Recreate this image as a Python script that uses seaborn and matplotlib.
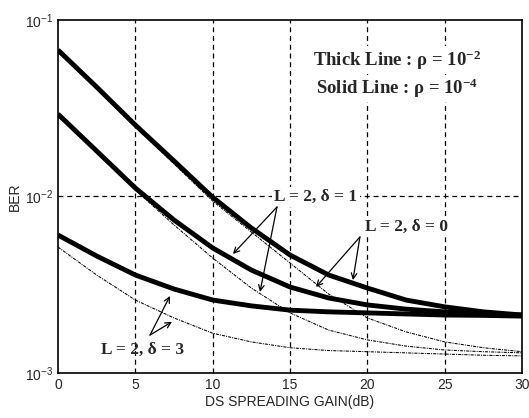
import numpy as np
import pandas as pd
import seaborn as sns
import matplotlib.pyplot as plt

# spreading gain (dB) sample points
gain_db = [0, 2.5, 5, 7.5, 10, 12.5, 15, 17.5, 20, 22.5, 25, 27.5, 30]

# thick lines: rho = 1e-2
thick_d1 = [0.0676, 0.0417, 0.0254, 0.0159, 0.0099, 0.00663, 0.00466, 0.00359,
            0.00303, 0.00259, 0.00237, 0.00222, 0.00213]
thick_d0 = [0.0293, 0.0181, 0.01117, 0.00736, 0.00511, 0.00383, 0.00307, 0.00266,
            0.00243, 0.00230, 0.00222, 0.00216, 0.00213]
thick_d3 = [0.00605, 0.00460, 0.00359, 0.00299, 0.00259, 0.00240, 0.00227, 0.00222,
            0.00219, 0.00216, 0.00213, 0.00212, 0.00210]

# thin lines: rho = 1e-4
thin_d1 = [0.0659, 0.0407, 0.0248, 0.0153, 0.00943, 0.00629, 0.00420, 0.00280,
           0.00205, 0.00171, 0.00150, 0.00139, 0.00132]
thin_d0 = [0.0290, 0.0179, 0.01088, 0.00690, 0.00448, 0.00303, 0.00219, 0.00175,
           0.00154, 0.00142, 0.00135, 0.00132, 0.00130]
thin_d3 = [0.00517, 0.00359, 0.00259, 0.00205, 0.00168, 0.00150, 0.00139, 0.00134,
           0.00132, 0.00130, 0.00128, 0.00126, 0.00125]

x_ticks = [0, 5, 10, 15, 20, 25, 30]
y_ticks = [1e-3, 1e-2, 1e-1]
y_ticklabels = [r"$\mathregular{10^{-3}}$", r"$\mathregular{10^{-2}}$", r"$\mathregular{10^{-1}}$"]

sns.set_style("white")
plt.rcParams["font.family"] = ["Liberation Sans", "DejaVu Sans"]

fig = plt.figure(figsize=(5.29, 4.18), dpi=100)
ax = fig.add_axes([0.1096, 0.1077, 0.8772, 0.8445])

for series in [thick_d1, thick_d0, thick_d3]:
    df = pd.DataFrame({"gain": gain_db, "ber": series})
    sns.lineplot(data=df, x="gain", y="ber", ax=ax, color="black", lw=3.5,
                 solid_capstyle="butt", zorder=3)

for series in [thin_d1, thin_d0, thin_d3]:
    df = pd.DataFrame({"gain": gain_db, "ber": series})
    sns.lineplot(data=df, x="gain", y="ber", ax=ax, color="black", lw=0.75,
                 linestyle=(0, (3, 1, 1, 1)), zorder=3)

ax.set_yscale("log")
ax.set_xlim(0, 30)
ax.set_ylim(1e-3, 1e-1)
ax.set_xticks(x_ticks)
ax.set_yticks(y_ticks)
ax.set_yticklabels(y_ticklabels)
ax.yaxis.set_minor_locator(plt.NullLocator())
ax.tick_params(axis="both", labelsize=10, direction="in", length=3, color="black")

# dashed grid, only the interior lines
for gx in [5, 10, 15, 20, 25]:
    ax.axvline(gx, color="black", lw=0.9, ls=(0, (4, 3)), zorder=1)
ax.axhline(1e-2, color="black", lw=0.9, ls=(0, (4, 3)), zorder=1)

for side in ax.spines.values():
    side.set_color("black")
    side.set_linewidth(1.2)

ax.set_xlabel("DS SPREADING GAIN(dB)", fontsize=10, labelpad=2)
ax.set_ylabel("BER", fontsize=10, labelpad=2)

serif = ["Liberation Serif", "DejaVu Serif"]
box = dict(facecolor="white", edgecolor="none", pad=1.5)
ax.text(0.731, 0.886, "Thick Line : ρ = $\\mathregular{10^{-2}}$", transform=ax.transAxes,
        ha="center", va="center", fontsize=13.5, fontweight="bold", family=serif,
        bbox=box, zorder=4)
ax.text(0.731, 0.806, "Solid Line : ρ = $\\mathregular{10^{-4}}$", transform=ax.transAxes,
        ha="center", va="center", fontsize=13.5, fontweight="bold", family=serif,
        bbox=box, zorder=4)

ax.text(16.68, 0.0099, "L = 2, δ = 1", ha="center", va="center", fontsize=12.5,
        fontweight="bold", family=serif, bbox=box, zorder=4)
ax.text(22.56, 0.00672, "L = 2, δ = 0", ha="center", va="center", fontsize=12.5,
        fontweight="bold", family=serif, bbox=box, zorder=4)
ax.text(5.49, 0.00135, "L = 2, δ = 3", ha="center", va="center", fontsize=12.5,
        fontweight="bold", family=serif, zorder=4)

arrow = dict(arrowstyle="->", color="black", lw=0.9, shrinkA=0, shrinkB=0)
for src, dst in [((14.16, 0.00872), (11.31, 0.00472)),
                 ((14.16, 0.00872), (13.06, 0.00288)),
                 ((19.52, 0.00590), (16.68, 0.00307)),
                 ((19.52, 0.00590), (19.07, 0.00336)),
                 ((5.95, 0.00164), (7.24, 0.00273)),
                 ((5.95, 0.00164), (7.37, 0.00195))]:
    ax.annotate("", xy=dst, xytext=src, arrowprops=arrow, zorder=5)

if ax.get_legend() is not None:
    ax.get_legend().remove()

fig.savefig("out.png", dpi=100)
